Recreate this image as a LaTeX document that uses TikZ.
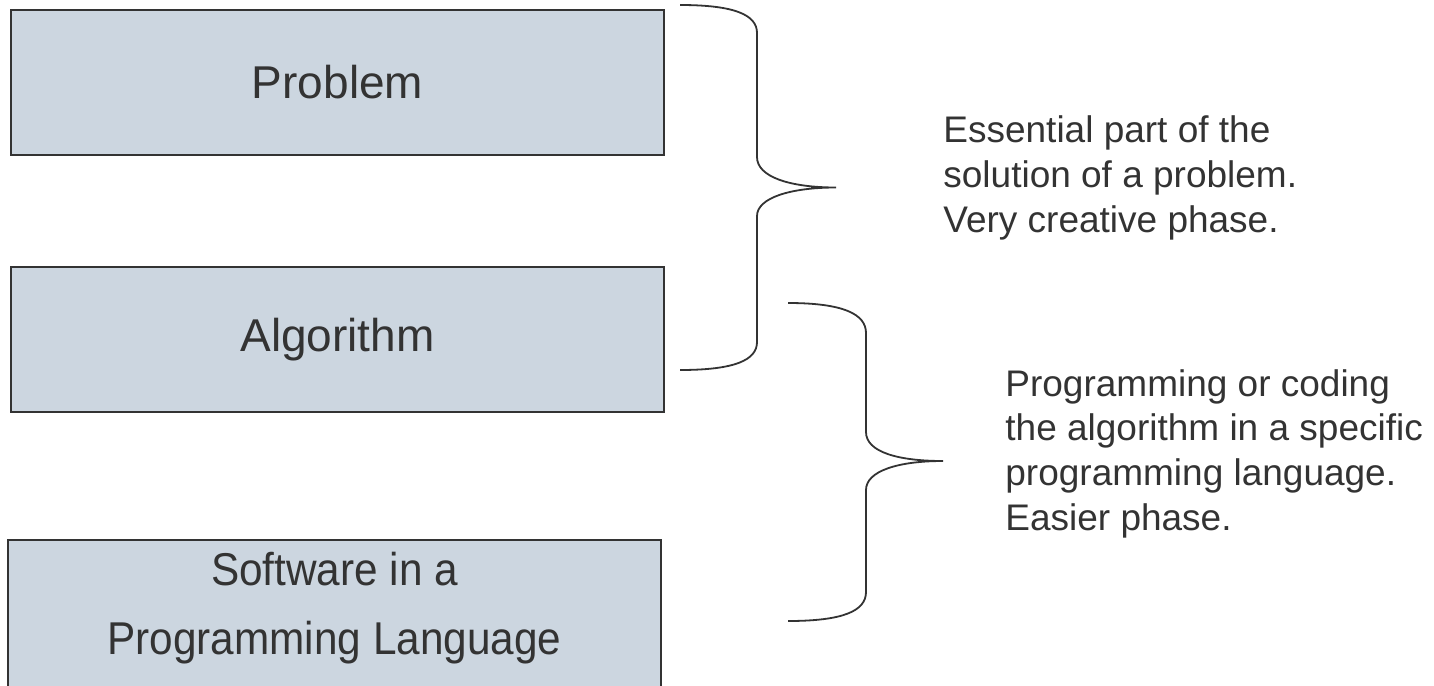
\documentclass[tikz,border=0pt]{standalone}
\usepackage{fontspec}
\setmainfont{Liberation Sans}
\newfontfamily\narrowsans[FakeStretch=0.92]{Liberation Sans}
\usepackage{tikz}
\usetikzlibrary{positioning}
\definecolor{boxfill}{HTML}{CCD6E0}
\definecolor{inkgray}{HTML}{333333}

\begin{document}
\begin{tikzpicture}[x=0.5pt, y=-0.5pt,
    stagebox/.style={draw=inkgray, line width=1.1pt, fill=boxfill, minimum width=326.5pt, minimum height=72.5pt, align=center, text=inkgray, font=\fontsize{23}{34.5}\selectfont},
    curly/.style={draw=inkgray, line width=0.9pt},
    note/.style={anchor=base west, align=left, text=inkgray, inner sep=0pt, font=\fontsize{18.5}{22.3}\selectfont}]
    \useasboundingbox (0,0) rectangle (1434,685);
    % the three stages
    \node[stagebox] (prob) at (337.5,82.5) {Problem};
    \node[stagebox] (algo) at (337.5,339.5) {Algorithm};
    % last box runs off the bottom of the page
    \node[stagebox, font=\narrowsans\fontsize{23}{34.5}\selectfont, minimum height=76pt] (soft) at (334.5,616)
        {\raisebox{5pt}[\height][\depth]{\begin{tabular}{@{}c@{}}Software in a\\Programming Language\end{tabular}}};

    % braces
    \draw[curly] (680,5) .. controls (735,5) and (757,15) .. (757,33) -- (757,157)
        .. controls (757,177) and (790,187.5) .. (836,187.5)
        .. controls (790,187.5) and (757,198) .. (757,216) -- (757,342)
        .. controls (757,360) and (735,370) .. (680,370);
    \draw[curly] (788,303) .. controls (843,303) and (866,314) .. (866,333) -- (866,432)
        .. controls (866,452) and (898,461) .. (943,461)
        .. controls (898,461) and (866,471) .. (866,490) -- (866,592)
        .. controls (866,611) and (843,621) .. (788,621);

    % comments (anchored on the last line)
    \node[note] (c1) at (943,232) {Essential part of the\\solution of a problem.\\Very creative phase.};
    \node[note] (c2) at (1005,530) {Programming or coding\\the algorithm in a specific\\programming language.\\Easier phase.};
\end{tikzpicture}
\end{document}
